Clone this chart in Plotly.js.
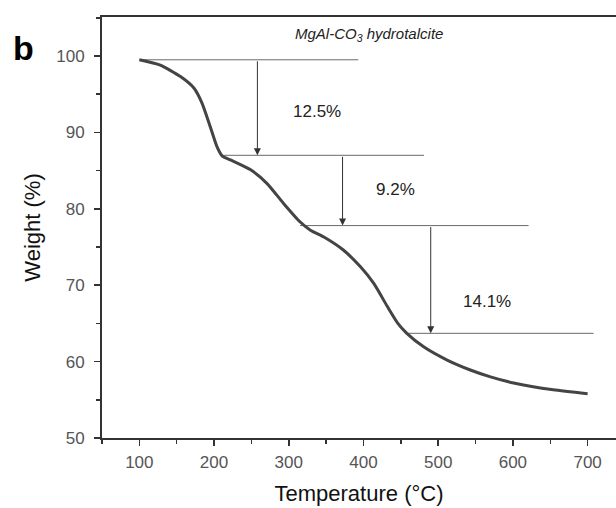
<!DOCTYPE html>
<html>
<head>
<meta charset="utf-8">
<script src="https://cdn.plot.ly/plotly-3.0.1.min.js"></script>
<style>html,body{margin:0;padding:0;background:#fff;overflow:hidden}</style>
</head>
<body>
<div id="chart" style="width:616px;height:508px"></div>
<script>
// TGA curve of MgAl-CO3 hydrotalcite
const temperature = [100, 128, 155, 173, 184, 195, 204, 211, 222, 249, 271, 293, 315, 329, 347, 373, 396, 414, 432, 446, 458, 481, 512, 543, 570, 601, 654, 700];
const weight      = [99.5, 98.8, 97.3, 95.8, 93.8, 90.7, 88.1, 86.9, 86.4, 85.1, 83.3, 80.7, 78.3, 77.2, 76.3, 74.6, 72.4, 70.2, 67.2, 65.0, 63.7, 61.9, 60.2, 58.9, 58.0, 57.2, 56.3, 55.8];

// Weight-loss steps: plateau levels and the loss between them
const stepLabels = ["12.5%", "9.2%", "14.1%"];
const stepLoss   = [12.5, 9.2, 14.1];
const startLevel = 99.5;
const lineFrom   = [100, 211, 315, 459];   // temperature where each level line starts
const lineTo     = [393, 481, 621, 708];   // temperature where each level line ends
const arrowAt    = [258, 372, 490];        // temperature of each arrow
const labelX     = [338, 443, 565];        // label centre, temperature
const labelY     = [92.7, 82.5, 67.9];     // label centre, weight

const levels = [startLevel];
stepLoss.forEach(d => levels.push(+(levels[levels.length - 1] - d).toFixed(2)));

const textFont = 'Liberation Sans, Arial, sans-serif';
const traces = [];
levels.forEach((lv, i) => {
  traces.push({
    x: [lineFrom[i], lineTo[i]], y: [lv, lv], mode: 'lines',
    line: {color: '#6a6a6a', width: 1}, hoverinfo: 'skip', showlegend: false
  });
});
traces.push({
  x: temperature, y: weight, mode: 'lines',
  line: {color: '#444444', width: 3, shape: 'spline', smoothing: 0.6},
  showlegend: false
});

const annotations = [];
stepLoss.forEach((d, i) => {
  annotations.push({
    x: arrowAt[i], y: levels[i + 1], ax: arrowAt[i], ay: levels[i],
    xref: 'x', yref: 'y', axref: 'x', ayref: 'y',
    text: '', showarrow: true, arrowhead: 2, arrowsize: 1.4, arrowwidth: 1, arrowcolor: '#333'
  });
  annotations.push({
    x: labelX[i], y: labelY[i], xref: 'x', yref: 'y',
    text: stepLabels[i], showarrow: false,
    font: {family: textFont, size: 17, color: '#222'}
  });
});

// text placed by pixel position inside the figure
const W = 616, H = 508, M = {l: 102, r: 0, t: 17, b: 70};
const px = (x, y) => ({x: (x - M.l) / (W - M.l - M.r), y: 1 - (y - M.t) / (H - M.t - M.b)});
annotations.push(Object.assign({
  xref: 'paper', yref: 'paper', xanchor: 'center', yanchor: 'middle',
  text: '<i>MgAl-CO<sub>3</sub> hydrotalcite</i>', showarrow: false,
  font: {family: textFont, size: 15, color: '#222'}
}, px(369, 34)));
annotations.push(Object.assign({
  xref: 'paper', yref: 'paper', xanchor: 'center', yanchor: 'middle',
  text: '<b>b</b>', showarrow: false,
  font: {family: textFont, size: 34, color: '#000'}
}, px(23, 48)));

const tickFont = {family: textFont, size: 17, color: '#555'};
const titleFont = {family: textFont, size: 22, color: '#111'};
const layout = {
  width: W, height: H, margin: M,
  paper_bgcolor: '#fff', plot_bgcolor: '#fff',
  xaxis: {
    range: [50, 738], tick0: 100, dtick: 100, ticks: 'outside', ticklen: 6, tickwidth: 1.5, tickcolor: '#333',
    minor: {dtick: 50, tick0: 50, ticks: 'outside', ticklen: 4, tickcolor: '#333', tickwidth: 1.5},
    showline: true, linecolor: '#333', linewidth: 2, mirror: true, showgrid: false, zeroline: false,
    tickfont: tickFont, ticklabelstandoff: 2,
    title: {text: 'Temperature (°C)', font: titleFont, standoff: 14}
  },
  yaxis: {
    range: [50, 105.1], tick0: 50, dtick: 10, ticks: 'outside', ticklen: 6, tickwidth: 1.5, tickcolor: '#333',
    minor: {dtick: 5, tick0: 50, ticks: 'outside', ticklen: 4, tickcolor: '#333', tickwidth: 1.5},
    showline: true, linecolor: '#333', linewidth: 2, mirror: false, showgrid: false, zeroline: false,
    tickfont: tickFont, ticklabelstandoff: 6,
    title: {text: 'Weight (%)', font: titleFont, standoff: 10}
  },
  annotations: annotations,
  showlegend: false
};

Plotly.newPlot('chart', traces, layout, {displayModeBar: false, staticPlot: true});
</script>
</body>
</html>
